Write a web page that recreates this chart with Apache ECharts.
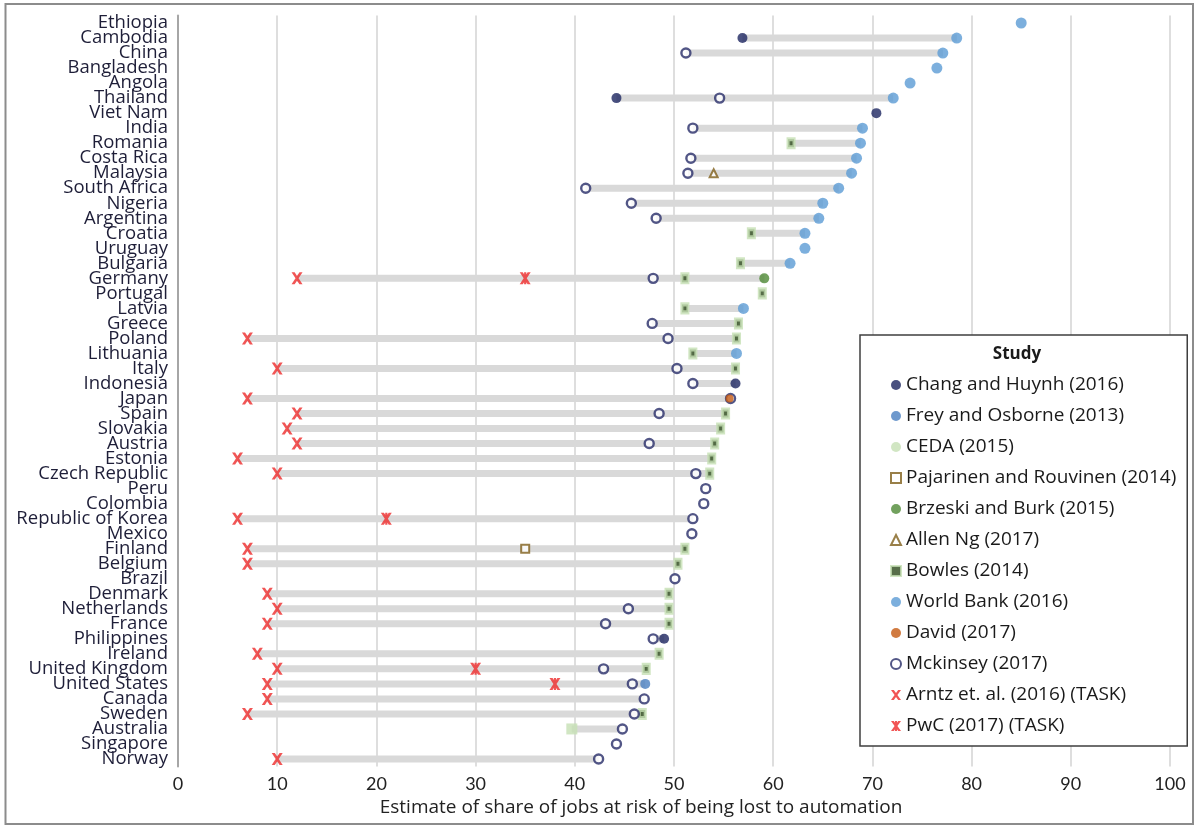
<!DOCTYPE html>
<html>
<head>
<meta charset="utf-8">
<script src="https://cdn.jsdelivr.net/npm/echarts@6/dist/echarts.min.js"></script>
<style>
  html, body { margin: 0; padding: 0; background: #fff; }
  #chart { width: 1196px; height: 826px; }
</style>
</head>
<body>
<div id="chart"></div>
<script>
var countries = ['Ethiopia', 'Cambodia', 'China', 'Bangladesh', 'Angola', 'Thailand', 'Viet Nam', 'India',
  'Romania', 'Costa Rica', 'Malaysia', 'South Africa', 'Nigeria', 'Argentina', 'Croatia', 'Uruguay',
  'Bulgaria', 'Germany', 'Portugal', 'Latvia', 'Greece', 'Poland', 'Lithuania', 'Italy', 'Indonesia',
  'Japan', 'Spain', 'Slovakia', 'Austria', 'Estonia', 'Czech Republic', 'Peru', 'Colombia',
  'Republic of Korea', 'Mexico', 'Finland', 'Belgium', 'Brazil', 'Denmark', 'Netherlands', 'France',
  'Philippines', 'Ireland', 'United Kingdom', 'United States', 'Canada', 'Sweden', 'Australia',
  'Singapore', 'Norway'];

var xTicks = [0, 10, 20, 30, 40, 50, 60, 70, 80, 90, 100];

// one list per study: [country, share of jobs at risk]
var changHuynh = [['Cambodia', 56.9], ['Thailand', 44.2], ['Viet Nam', 70.4], ['Indonesia', 56.2], ['Philippines', 49.0]];
var freyOsborne = [['United States', 47.1]];
var ceda = [['Australia', 39.7]];
var pajarinen = [['Finland', 35.0]];
var brzeski = [['Germany', 59.1]];
var allenNg = [['Malaysia', 54.0]];
var bowles = [['Romania', 61.8], ['Croatia', 57.8], ['Bulgaria', 56.7], ['Germany', 51.1], ['Portugal', 58.9],
  ['Latvia', 51.1], ['Greece', 56.5], ['Poland', 56.3], ['Lithuania', 51.9], ['Italy', 56.2], ['Spain', 55.2],
  ['Slovakia', 54.7], ['Austria', 54.1], ['Estonia', 53.8], ['Czech Republic', 53.6], ['Finland', 51.1],
  ['Belgium', 50.4], ['Denmark', 49.5], ['Netherlands', 49.5], ['France', 49.5], ['Ireland', 48.5],
  ['United Kingdom', 47.2], ['Sweden', 46.8]];
var worldBank = [['Ethiopia', 85.0], ['Cambodia', 78.5], ['China', 77.1], ['Bangladesh', 76.5], ['Angola', 73.8],
  ['Thailand', 72.1], ['India', 69.0], ['Romania', 68.8], ['Costa Rica', 68.4], ['Malaysia', 67.9],
  ['South Africa', 66.6], ['Nigeria', 65.0], ['Argentina', 64.6], ['Croatia', 63.2], ['Uruguay', 63.2],
  ['Bulgaria', 61.7], ['Latvia', 57.0], ['Lithuania', 56.3]];
var david = [['Japan', 55.6]];
var mckinsey = [['China', 51.2], ['Thailand', 54.6], ['India', 51.9], ['Costa Rica', 51.7], ['Malaysia', 51.4],
  ['South Africa', 41.1], ['Nigeria', 45.7], ['Argentina', 48.2], ['Germany', 47.9], ['Greece', 47.8],
  ['Poland', 49.4], ['Italy', 50.3], ['Indonesia', 51.9], ['Japan', 55.7], ['Spain', 48.5], ['Austria', 47.5],
  ['Czech Republic', 52.2], ['Peru', 53.2], ['Colombia', 53.0], ['Republic of Korea', 51.9], ['Mexico', 51.8],
  ['Brazil', 50.1], ['Netherlands', 45.4], ['France', 43.1], ['Philippines', 47.9], ['United Kingdom', 42.9],
  ['United States', 45.8], ['Canada', 47.0], ['Sweden', 46.0], ['Australia', 44.8], ['Singapore', 44.2],
  ['Norway', 42.4]];
var arntz = [['Germany', 12], ['Poland', 7], ['Italy', 10], ['Japan', 7], ['Spain', 12], ['Slovakia', 11],
  ['Austria', 12], ['Estonia', 6], ['Czech Republic', 10], ['Republic of Korea', 6], ['Finland', 7],
  ['Belgium', 7], ['Denmark', 9], ['Netherlands', 10], ['France', 9], ['Ireland', 8], ['United Kingdom', 10],
  ['United States', 9], ['Canada', 9], ['Sweden', 7], ['Norway', 10]];
var pwc = [['Germany', 35], ['Republic of Korea', 21], ['United Kingdom', 30], ['United States', 38]];

var FONT = 'Open Sans';
var xPath = 'path://M0,0 L2.8,0 L5,3 L7.2,0 L10,0 L6.4,5 L10,10 L7.2,10 L5,7 L2.8,10 L0,10 L3.6,5 Z';
var xStarPath = 'path://M0,0 L2.8,0 L5,3 L7.2,0 L10,0 L6.4,5 L10,10 L7.2,10 L5,7 L2.8,10 L0,10 L3.6,5 Z M4,0 L6,0 L6,10 L4,10 Z';

var studies = [
  { name: 'Chang and Huynh (2016)', data: changHuynh, symbol: 'circle', size: 10, style: { color: '#1d2660' } },
  { name: 'Frey and Osborne (2013)', data: freyOsborne, symbol: 'circle', size: 10, style: { color: '#4a80c0' } },
  { name: 'CEDA (2015)', data: ceda, symbol: 'rect', size: 11, style: { color: '#c5e0b4' }, icon: 'circle' },
  { name: 'Pajarinen and Rouvinen (2014)', data: pajarinen, symbol: 'rect', size: 8, style: { color: '#fff', borderColor: '#7f5f1a', borderWidth: 2 } },
  { name: 'Brzeski and Burk (2015)', data: brzeski, symbol: 'circle', size: 10, style: { color: '#4f8a36' } },
  { name: 'Allen Ng (2017)', data: allenNg, symbol: 'triangle', size: 8, style: { color: '#fff', borderColor: '#7f5f1a', borderWidth: 2 } },
  { name: 'Bowles (2014)', data: bowles, symbol: 'rect', size: [6, 8], style: { color: '#2d4a1c', borderColor: '#c5e0b4', borderWidth: 3.5 } },
  { name: 'World Bank (2016)', data: worldBank, symbol: 'circle', size: 11, style: { color: '#5b9bd5' } },
  { name: 'Mckinsey (2017)', data: mckinsey, symbol: 'circle', size: 9, style: { color: '#fff', borderColor: '#272c68', borderWidth: 2.4 } },
  { name: 'David (2017)', data: david, symbol: 'circle', size: 8, style: { color: '#c55a11' } },
  { name: 'Arntz et. al. (2016) (TASK)', data: arntz, symbol: xPath, size: [11, 12], style: { color: '#ee2b2b' } },
  { name: 'PwC (2017) (TASK)', data: pwc, symbol: xStarPath, size: [11, 12], style: { color: '#ee2b2b' } }
];
var legendOrder = ['Chang and Huynh (2016)', 'Frey and Osborne (2013)', 'CEDA (2015)', 'Pajarinen and Rouvinen (2014)',
  'Brzeski and Burk (2015)', 'Allen Ng (2017)', 'Bowles (2014)', 'World Bank (2016)', 'David (2017)',
  'Mckinsey (2017)', 'Arntz et. al. (2016) (TASK)', 'PwC (2017) (TASK)'];

// range of all estimates per country, for the grey connecting bar
var lo = {}, hi = {};
studies.forEach(function (s) {
  s.data.forEach(function (d) {
    var c = d[0], v = d[1];
    if (lo[c] === undefined || v < lo[c]) lo[c] = v;
    if (hi[c] === undefined || v > hi[c]) hi[c] = v;
  });
});
var barBase = countries.map(function (c) { return lo[c]; });
var barSpan = countries.map(function (c) { return +(hi[c] - lo[c]).toFixed(2); });

var chart = echarts.init(document.getElementById('chart'));

var series = [
  { type: 'bar', stack: 'range', data: barBase, barWidth: 7, silent: true,
    itemStyle: { color: 'rgba(0,0,0,0)' } },
  { type: 'bar', stack: 'range', data: barSpan, barWidth: 7, silent: true,
    itemStyle: { color: '#d9d9d9' } }
];
studies.forEach(function (s, i) {
  series.push({
    type: 'scatter',
    name: s.name,
    symbol: s.symbol,
    symbolSize: s.size,
    z: 3 + i,
    itemStyle: s.style,
    data: s.data.map(function (d) { return [d[1], d[0]]; })
  });
});

var legendData = legendOrder.map(function (n) {
  var s = studies.filter(function (t) { return t.name === n; })[0];
  return s.icon ? { name: n, icon: s.icon } : { name: n };
});

option = {
  animation: false,
  grid: { left: 178, right: 26, top: 15.5, bottom: 59.5 },
  xAxis: {
    type: 'value',
    min: 0,
    max: 100,
    interval: 10,
    axisLine: { show: false },
    axisTick: { show: false },
    axisLabel: { margin: 9, fontFamily: 'Lato', fontSize: 18, color: '#222',
      formatter: function (v) { return xTicks.indexOf(v) >= 0 ? String(v) : ''; } },
    splitLine: { lineStyle: { color: '#dedede', width: 2 } }
  },
  yAxis: {
    type: 'category',
    inverse: true,
    data: countries,
    axisLine: { lineStyle: { color: '#a6a6a6', width: 2 } },
    axisTick: { show: false },
    axisLabel: { margin: 10, fontFamily: FONT, fontSize: 18.5, color: '#1e1e38', interval: 0, lineHeight: 15 },
    splitLine: { show: false }
  },
  legend: {
    orient: 'vertical',
    left: 860,
    top: 335,
    padding: [40, 11, 10, 30],
    itemGap: 11,
    itemWidth: 10,
    itemHeight: 10,
    backgroundColor: '#fff',
    borderColor: '#3f3f3f',
    borderWidth: 1.5,
    textStyle: { fontFamily: FONT, fontSize: 19, color: '#1a1a1a', lineHeight: 20 },
    data: legendData
  },
  graphic: [
    { type: 'rect', silent: true, z: -1,
      shape: { x: 5.5, y: 4, width: 1187.5, height: 820 },
      style: { fill: 'none', stroke: '#8c8c8c', lineWidth: 2 } },
    { type: 'text', x: 1017, y: 354, z: 100,
      style: { text: 'Study', font: 'bold 17px ' + FONT, fill: '#1a1a1a', textAlign: 'center', textVerticalAlign: 'middle' } },
    { type: 'text', x: 641, y: 808,
      style: { text: 'Estimate of share of jobs at risk of being lost to automation', font: '19px ' + FONT, fill: '#222', textAlign: 'center', textVerticalAlign: 'middle' } }
  ],
  series: series
};

chart.setOption(option, true);
</script>
</body>
</html>
